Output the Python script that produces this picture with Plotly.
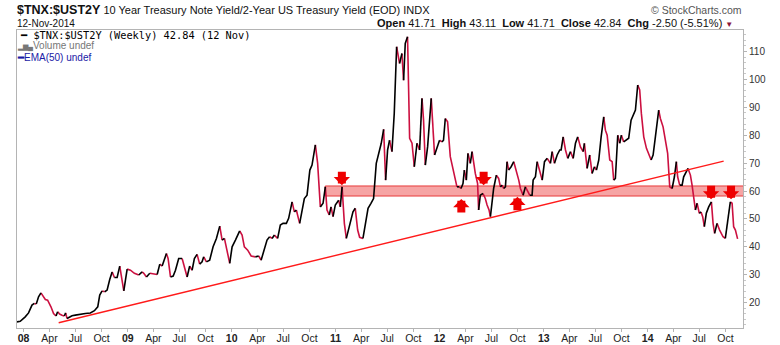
import plotly.graph_objects as go
import pandas as pd

# ---------------- data ----------------
# weekly $TNX:$UST2Y ratio; time given as decimal years
t_years = [
    2007.937, 2007.968, 2008.016, 2008.048, 2008.081, 2008.103, 2008.122, 2008.144, 2008.167, 2008.192,
    2008.209, 2008.231, 2008.250, 2008.263, 2008.288, 2008.312, 2008.327, 2008.346, 2008.369, 2008.391,
    2008.404, 2008.417, 2008.433, 2008.465, 2008.497, 2008.545, 2008.593, 2008.641, 2008.680, 2008.712,
    2008.731, 2008.754, 2008.779, 2008.802, 2008.827, 2008.850, 2008.872, 2008.898, 2008.923, 2008.939,
    2008.962, 2008.994, 2009.026, 2009.064, 2009.106, 2009.138, 2009.154, 2009.180, 2009.212, 2009.250,
    2009.283, 2009.308, 2009.331, 2009.353, 2009.372, 2009.388, 2009.411, 2009.437, 2009.459, 2009.490,
    2009.523, 2009.545, 2009.571, 2009.596, 2009.619, 2009.641, 2009.667, 2009.692, 2009.715, 2009.731,
    2009.757, 2009.788, 2009.821, 2009.853, 2009.885, 2009.908, 2009.930, 2009.956, 2009.981, 2010.004,
    2010.036, 2010.077, 2010.100, 2010.122, 2010.154, 2010.187, 2010.228, 2010.260, 2010.283, 2010.308,
    2010.340, 2010.365, 2010.388, 2010.411, 2010.442, 2010.468, 2010.494, 2010.526, 2010.548, 2010.581,
    2010.603, 2010.622, 2010.635, 2010.654, 2010.677, 2010.699, 2010.725, 2010.752, 2010.773, 2010.805,
    2010.827, 2010.853, 2010.879, 2010.901, 2010.917, 2010.939, 2010.956, 2010.975, 2010.997, 2011.029,
    2011.045, 2011.062, 2011.084, 2011.103, 2011.135, 2011.167, 2011.189, 2011.212, 2011.231, 2011.263,
    2011.286, 2011.312, 2011.340, 2011.365, 2011.391, 2011.413, 2011.439, 2011.462, 2011.481, 2011.500,
    2011.519, 2011.542, 2011.564, 2011.587, 2011.615, 2011.638, 2011.654, 2011.670, 2011.692, 2011.712,
    2011.735, 2011.757, 2011.783, 2011.808, 2011.831, 2011.846, 2011.863, 2011.885, 2011.920, 2011.952,
    2011.975, 2012.000, 2012.023, 2012.038, 2012.055, 2012.077, 2012.103, 2012.129, 2012.144, 2012.167,
    2012.189, 2012.206, 2012.225, 2012.238, 2012.257, 2012.273, 2012.295, 2012.312, 2012.327, 2012.343,
    2012.365, 2012.375, 2012.391, 2012.417, 2012.439, 2012.456, 2012.475, 2012.488, 2012.504, 2012.519,
    2012.545, 2012.567, 2012.584, 2012.600, 2012.615, 2012.632, 2012.648, 2012.663, 2012.687, 2012.712,
    2012.735, 2012.760, 2012.776, 2012.802, 2012.824, 2012.840, 2012.865, 2012.888, 2012.898, 2012.920,
    2012.937, 2012.962, 2012.985, 2013.007, 2013.033, 2013.064, 2013.081, 2013.103, 2013.129, 2013.154,
    2013.167, 2013.187, 2013.209, 2013.231, 2013.257, 2013.283, 2013.305, 2013.327, 2013.353, 2013.379,
    2013.391, 2013.417, 2013.442, 2013.465, 2013.488, 2013.507, 2013.529, 2013.552, 2013.577, 2013.593,
    2013.610, 2013.635, 2013.658, 2013.673, 2013.689, 2013.712, 2013.731, 2013.747, 2013.769, 2013.795,
    2013.817, 2013.840, 2013.865, 2013.882, 2013.904, 2013.923, 2013.939, 2013.962, 2013.988, 2014.010,
    2014.033, 2014.052, 2014.074, 2014.106, 2014.122, 2014.148, 2014.170, 2014.192, 2014.212, 2014.235,
    2014.257, 2014.276, 2014.288, 2014.308, 2014.331, 2014.346, 2014.372, 2014.388, 2014.411, 2014.427,
    2014.442, 2014.459, 2014.475, 2014.497, 2014.513, 2014.529, 2014.545, 2014.564, 2014.587, 2014.613,
    2014.629, 2014.644, 2014.667, 2014.692, 2014.725, 2014.747, 2014.763, 2014.779, 2014.795, 2014.812,
    2014.827, 2014.844, 2014.865,
]
ratio = [
    13.1, 13.3, 14.9, 16.3, 19.1, 19.7, 19.5, 22.1, 23.5, 22.3,
    21.1, 20.9, 19.7, 18.5, 16.1, 15.2, 16.7, 15.9, 15.5, 15.2,
    16.3, 14.3, 14.6, 15.3, 15.5, 15.9, 16.1, 16.3, 17.1, 18.5,
    22.7, 24.2, 23.9, 24.5, 28.3, 31.0, 29.0, 29.0, 33.1, 29.5,
    24.2, 32.0, 31.6, 30.5, 29.9, 31.0, 30.5, 29.2, 30.5, 30.2,
    30.1, 33.8, 33.1, 35.8, 37.6, 35.8, 29.2, 29.5, 31.6, 35.8,
    35.8, 32.8, 29.2, 33.1, 31.6, 35.8, 37.3, 33.8, 34.6, 36.4,
    34.6, 35.2, 40.0, 43.0, 47.4, 42.4, 43.0, 38.8, 34.1, 40.0,
    42.4, 45.7, 44.2, 40.0, 38.8, 36.7, 36.4, 36.7, 35.2, 38.8,
    42.4, 43.6, 43.0, 44.2, 43.0, 47.8, 48.4, 48.4, 50.2, 56.1,
    52.5, 53.2, 51.4, 48.4, 52.5, 57.3, 58.5, 67.5, 69.3, 76.5,
    69.9, 54.3, 55.6, 61.5, 53.2, 51.4, 54.3, 50.8, 55.0, 56.7,
    54.3, 61.5, 48.4, 43.0, 47.8, 52.5, 53.8, 46.0, 43.4, 43.0,
    48.4, 53.8, 55.6, 57.3, 69.9, 72.9, 77.1, 82.1, 63.9, 74.7,
    78.2, 74.1, 87.8, 111.7, 105.7, 109.3, 99.7, 112.9, 115.3, 78.9,
    77.1, 68.7, 77.1, 74.7, 93.2, 85.4, 69.3, 75.8, 93.2, 72.9,
    75.8, 78.2, 77.6, 78.2, 86.0, 84.8, 72.3, 67.5, 64.5, 61.5,
    61.5, 60.9, 62.7, 67.5, 63.9, 73.5, 69.9, 74.1, 69.9, 66.3,
    62.7, 53.2, 58.5, 59.1, 57.3, 55.0, 53.2, 50.8, 56.7, 60.9,
    65.7, 64.5, 61.5, 62.1, 60.9, 61.5, 70.5, 67.5, 68.7, 70.5,
    67.5, 63.9, 60.9, 58.5, 61.5, 60.3, 58.5, 58.5, 63.9, 65.1,
    70.5, 66.9, 63.9, 70.5, 71.7, 69.9, 74.1, 69.9, 72.9, 74.7,
    74.7, 79.4, 74.7, 71.7, 74.1, 71.7, 77.1, 79.4, 75.8, 74.1,
    77.1, 68.1, 72.9, 66.3, 68.7, 67.5, 71.1, 79.4, 86.6, 81.8,
    80.0, 71.1, 70.5, 63.9, 64.5, 80.0, 77.1, 80.0, 77.6, 78.2,
    78.9, 85.4, 87.8, 89.0, 98.0, 96.2, 87.8, 79.4, 75.3, 73.5,
    71.1, 72.9, 79.4, 89.0, 86.0, 83.0, 78.2, 73.5, 61.5, 60.9,
    65.1, 70.5, 65.1, 62.1, 62.1, 65.1, 66.9, 68.1, 65.7, 62.1,
    57.9, 53.2, 55.6, 52.0, 52.5, 50.8, 47.2, 52.0, 54.3, 56.1,
    48.4, 44.8, 48.4, 46.0, 43.6, 43.0, 47.2, 53.2, 56.1, 55.6,
    47.2, 46.0, 42.84,
]

# annotations
trend_t = [2008.337, 2014.731]
trend_v = [12.8, 70.7]
band_t = [2010.901, 2014.95]
band_v = [58.2, 61.8]
arrow_t = [2011.060, 2012.423, 2014.610, 2014.802, 2012.209, 2012.747]
arrow_v = [62.1, 62.1, 57.0, 57.0, 57.1, 57.9]
arrow_dir = ["down", "down", "down", "down", "up", "up"]

x_range_t = [2007.937, 2014.917]
y_range = [10.9, 117.7]
y_ticks = [20, 30, 40, 50, 60, 70, 80, 90, 100, 110]
year_labels = ["08", "09", "10", "11", "12", "13", "14"]
month_labels = ["Apr", "Jul", "Oct"]


def to_date(t):
    y = int(t // 1)
    start = pd.Timestamp(year=y, month=1, day=1)
    end = pd.Timestamp(year=y + 1, month=1, day=1)
    return start + (end - start) * (t - y)


dates = [to_date(t) for t in t_years]

# split into rising (black) and falling (crimson) runs
up_x, up_y, dn_x, dn_y = [], [], [], []
n = len(ratio)
i = 0
while i < n - 1:
    rising = ratio[i + 1] >= ratio[i]
    j = i
    while j < n - 1 and (ratio[j + 1] >= ratio[j]) == rising:
        j += 1
    if rising:
        up_x.extend(dates[i:j + 1] + [None]); up_y.extend(ratio[i:j + 1] + [None])
    else:
        dn_x.extend(dates[i:j + 1] + [None]); dn_y.extend(ratio[i:j + 1] + [None])
    i = j

fig = go.Figure()
fig.add_trace(go.Scatter(x=dn_x, y=dn_y, mode="lines",
                         line=dict(color="#cc1040", width=1.6), hoverinfo="skip"))
fig.add_trace(go.Scatter(x=up_x, y=up_y, mode="lines",
                         line=dict(color="#000000", width=1.6), hoverinfo="skip"))

# resistance/support band
fig.add_shape(type="rect", xref="x", yref="y",
              x0=to_date(band_t[0]), x1=to_date(band_t[1]), y0=band_v[0], y1=band_v[1],
              fillcolor="#f6a4a4", line=dict(color="#e83a3a", width=1), layer="below")
# trendline
fig.add_shape(type="line", xref="x", yref="y",
              x0=to_date(trend_t[0]), y0=trend_v[0], x1=to_date(trend_t[1]), y1=trend_v[1],
              line=dict(color="#ff1a1a", width=1.4), layer="above")

# block arrows
for t, v, d in zip(arrow_t, arrow_v, arrow_dir):
    fig.add_annotation(x=to_date(t), y=v, xref="x", yref="y", text="",
                       showarrow=True, ax=0, ay=(-15 if d == "down" else 15),
                       arrowhead=1, arrowsize=0.34, arrowwidth=8, arrowcolor="#ee0000",
                       standoff=0)

# x tick labels (quarterly)
tickvals, ticktext = [], []
for k, yl in enumerate(year_labels):
    yr = 2008 + k
    tickvals.append(pd.Timestamp(year=yr, month=1, day=1)); ticktext.append("<b>%s</b>" % yl)
    for m, ml in zip([4, 7, 10], month_labels):
        tickvals.append(pd.Timestamp(year=yr, month=m, day=1)); ticktext.append(ml)

FONT = "Liberation Sans, Arial, sans-serif"
MONO = "DejaVu Sans Mono, monospace"

fig.update_layout(
    width=780, height=345,
    margin=dict(l=17, r=37, t=30, b=17, autoexpand=False),
    paper_bgcolor="white", plot_bgcolor="white",
    showlegend=False, hovermode=False,
    font=dict(family=FONT, size=11, color="#222222"),
    xaxis=dict(type="date", range=[to_date(x_range_t[0]), to_date(x_range_t[1])],
               automargin=False,
               tickvals=tickvals, ticktext=ticktext, showgrid=False, zeroline=False,
               showline=True, linecolor="#b4b4b4", linewidth=1, mirror=True,
               ticks="", tickfont=dict(family=FONT, size=10.5, color="#222222"),
               minor=dict(tick0="2008-01-01", dtick="M3", ticks="outside", ticklen=3,
                          tickcolor="#b4b4b4", showgrid=False)),
    yaxis=dict(range=y_range, side="right", tickvals=y_ticks, showgrid=False, zeroline=False,
               automargin=False,
               showline=True, linecolor="#b4b4b4", linewidth=1, mirror=True,
               ticks="outside", ticklen=3, tickcolor="#b4b4b4",
               tickfont=dict(family=FONT, size=10, color="#333333"),
               minor=dict(dtick=2, ticks="outside", ticklen=2, tickcolor="#c8c8c8")),
)

# header texts
fig.add_annotation(xref="paper", yref="paper", x=0, y=1, xanchor="left", yanchor="middle",
                   xshift=-2, yshift=20, showarrow=False,
                   text="<b><span style='font-size:12.5px'>$TNX:$UST2Y</span></b> "
                        "10 Year Treasury Note Yield/2-Year US Treasury Yield (EOD) INDX",
                   font=dict(family=FONT, size=11, color="#111111"))
fig.add_annotation(xref="paper", yref="paper", x=0, y=1, xanchor="left", yanchor="middle",
                   xshift=-2, yshift=7, showarrow=False, text="12-Nov-2014",
                   font=dict(family=FONT, size=10, color="#111111"))
fig.add_annotation(xref="paper", yref="paper", x=1, y=1, xanchor="right", yanchor="middle",
                   xshift=1, yshift=20, showarrow=False, text="© StockCharts.com",
                   font=dict(family=FONT, size=10.5, color="#555555"))
fig.add_annotation(xref="paper", yref="paper", x=1, y=1, xanchor="right", yanchor="middle",
                   xshift=-8, yshift=7, showarrow=False,
                   text="<b>Open</b> 41.71  <b>High</b> 43.11  <b>Low</b> 41.71  "
                        "<b>Close</b> 42.84  <b>Chg</b> -2.50 (-5.51%) "
                        "<span style='color:#8b1538;font-size:8px'>▼</span>",
                   font=dict(family=FONT, size=11, color="#111111"))

# in-plot legend
fig.add_annotation(xref="paper", yref="paper", x=0, y=1, xanchor="left", yanchor="middle",
                   xshift=1, yshift=-5, showarrow=False,
                   text="━ $TNX:$UST2Y (Weekly) 42.84 (12 Nov)",
                   font=dict(family=MONO, size=10.3, color="#000000"))
fig.add_annotation(xref="paper", yref="paper", x=0, y=1, xanchor="left", yanchor="middle",
                   xshift=-1, yshift=-16, showarrow=False, borderpad=0,
                   text="<span style='font-size:7px'>▂▆▄</span>Volume undef",
                   font=dict(family=FONT, size=10, color="#777777"))
fig.add_annotation(xref="paper", yref="paper", x=0, y=1, xanchor="left", yanchor="middle",
                   xshift=-1, yshift=-27, showarrow=False, borderpad=0,
                   text="<b>━</b>EMA(50) undef",
                   font=dict(family=FONT, size=10, color="#1a1aa6"))

fig.write_html("out.html")
